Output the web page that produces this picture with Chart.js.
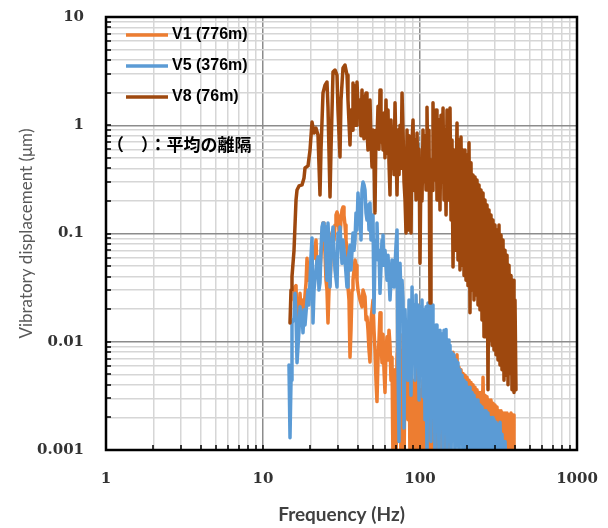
<!DOCTYPE html>
<html>
<head>
<meta charset="utf-8">
<script src="https://cdn.jsdelivr.net/npm/chart.js@4"></script>
<style>
  html,body{margin:0;padding:0;background:#fff}
  #wrap{width:608px;height:528px;position:relative}
</style>
</head>
<body>
<div id="wrap"><canvas id="cv"></canvas></div>
<script>
// ── axis ticks ──
var xTickLabels=['1','10','100','1000'];
var yTickLabels=['0.001','0.01','0.1','1','10'];
var gridSteps=[1,2,3,4,5,6,7,8,9];

// ── V1 (776m) ──
var v1Freq=[15.76,15.99,16.23,16.47,16.96,17.21,17.46,17.72,17.98,18.52,18.79,19.07,19.35,19.63,20.22,20.52,20.82,21.13,21.44,21.76,
  22.08,22.40,22.73,23.07,23.41,23.76,24.11,24.46,24.83,25.19,25.56,25.94,26.33,26.72,27.11,27.51,27.92,28.33,28.75,29.17,
  29.60,30.04,30.49,30.93,31.39,31.86,32.33,32.80,33.29,33.78,34.28,34.78,35.30,35.82,36.35,36.89,37.43,38.55,39.12,39.69,
  40.28,41.48,42.71,43.35,44.64,45.30,45.96,46.64,47.33,48.03,48.74,49.46,50.19,50.93,51.68,52.45,53.22,54.01,54.81,55.62,
  56.44,57.28,58.12,58.98,59.85,60.74,61.64,62.55,63.47,64.41,65.37,66.33,67.31,68.31,69.32,70.35,71.39,72.44,73.52,74.60,
  75.71,76.83,77.96,79.12,80.29,81.47,82.68,83.90,85.14,86.40,87.68,88.97,91.62,92.98,95.75,97.16,100.0,101.5,104.5,106.1,
  109.2,110.8,114.1,115.8,119.3,121.0,124.6,126.5,130.2,132.1,136.1,138.1,142.2,144.3,148.6,150.8,153.0,155.3,157.6,159.9,
  162.3,164.7,167.1,169.6,172.1,174.6,177.2,179.8,182.5,185.2,187.9,190.7,193.5,196.4,199.3,202.2,205.2,208.2,211.3,214.4,
  217.6,220.8,224.1,227.4,230.7,234.2,237.6,241.1,244.7,248.3,252.0,255.7,259.4,263.3,267.2,271.1,275.1,279.2,283.3,287.5,
  291.7,296.0,300.4,304.9,309.4,314.0,318.6,323.3,328.1,332.9,337.9,342.8,347.9,353.1,358.3,363.6,368.9,374.4,379.9,385.5,
  391.2,396.9];
var v1Disp=[0.0243,0.032,0.033,0.0128,0.0197,0.028,0.0197,0.0243,0.0159,0.027,0.035,0.059,0.043,0.037,0.051,0.070,0.075,0.059,0.070,0.087,
  0.046,0.057,0.035,0.046,0.063,0.087,0.125,0.097,0.066,0.037,0.030,0.0149,0.030,0.035,0.057,0.101,0.108,0.087,0.120,0.148,
  0.158,0.148,0.108,0.093,0.133,0.165,0.176,0.148,0.120,0.087,0.070,0.032,0.0243,0.0072,0.0128,0.030,0.037,0.057,0.051,0.037,
  0.030,0.0243,0.0210,0.030,0.026,0.0159,0.017,0.0128,0.0084,0.0065,0.0159,0.0197,0.0243,0.0128,0.0084,0.0044,0.0028,0.0068,0.0104,0.0185,
  0.0104,0.0064,0.0117,0.0055,0.0034,0.0084,0.0111,0.0068,0.0128,0.0093,0.0044,0.0072,0.0007,0.0044,0.0055,0.0007,0.0068,0.0104,0.0023,0.0117,
  0.0007,0.0044,0.0084,0.0007,0.0068,0.0029,0.0104,0.0019,0.0084,0.0007,0.0068,0.0007,0.0044,0.0007,0.0055,0.0007,0.0036,0.0007,0.0044,0.0007,
  0.0034,0.0007,0.0055,0.0007,0.0049,0.0007,0.0036,0.0007,0.0029,0.0007,0.0032,0.0007,0.0036,0.0007,0.0044,0.0008,0.0055,0.0012,0.0068,0.0019,
  0.0080,0.0023,0.0072,0.0029,0.0076,0.0019,0.0058,0.0023,0.0055,0.0015,0.0051,0.0021,0.0049,0.0012,0.0047,0.0019,0.0044,0.0011,0.0042,0.0017,
  0.0040,0.0012,0.0038,0.0015,0.0036,0.0010,0.0034,0.0015,0.0034,0.0011,0.0047,0.0013,0.0032,0.0010,0.0031,0.0012,0.0029,0.0009,0.0029,0.0012,
  0.0027,0.0009,0.0026,0.0011,0.0025,0.0009,0.0023,0.0011,0.0023,0.0008,0.0022,0.0011,0.0022,0.0008,0.0022,0.0010,0.0021,0.0008,0.0022,0.0009,
  0.0021,0.0007];

// ── V5 (376m) ──
var v5Freq=[14.64,14.86,15.08,15.30,15.76,15.99,16.23,16.47,16.96,17.21,17.46,17.72,17.98,18.25,18.52,19.07,19.35,19.63,19.93,20.22,
  20.52,20.82,21.13,21.76,22.08,22.40,22.73,23.07,23.41,23.76,24.11,24.46,24.83,25.19,25.56,25.94,26.33,26.72,27.11,27.92,
  28.33,28.75,29.60,30.04,30.49,30.93,31.86,32.33,33.29,34.28,34.78,35.82,36.35,37.43,37.98,38.55,39.12,39.69,40.28,40.88,
  41.48,42.09,42.71,43.35,43.99,44.64,45.30,45.96,46.64,47.33,48.03,48.74,49.46,50.19,50.93,51.68,52.45,53.22,54.01,54.81,
  55.62,57.28,58.12,58.98,59.85,61.64,62.55,64.41,66.33,68.31,70.35,71.39,72.44,73.52,74.60,75.71,76.83,77.96,79.12,80.29,
  81.47,82.68,83.90,85.14,86.40,87.68,88.97,90.29,91.62,92.98,94.35,95.75,97.16,98.60,100.0,101.5,103.0,104.5,106.1,107.6,
  109.2,110.8,112.5,114.1,115.8,117.5,119.3,121.0,122.8,124.6,126.5,128.3,130.2,132.1,134.1,136.1,138.1,140.2,142.2,144.3,
  146.5,148.6,150.8,153.0,155.3,157.6,159.9,162.3,164.7,167.1,169.6,172.1,174.6,177.2,179.8,182.5,185.2,187.9,190.7,193.5,
  196.4,199.3,202.2,205.2,208.2,211.3,214.4,217.6,220.8,224.1,227.4,230.7,234.2,237.6,241.1,244.7,248.3,252.0,255.7,259.4,
  263.3,267.2,271.1,275.1,279.2,283.3,287.5,291.7,296.0,300.4,304.9,309.4,314.0,318.6,323.3,328.1,332.9,337.9,347.9,353.1];
var v5Disp=[0.0061,0.0013,0.0044,0.0149,0.0165,0.028,0.0169,0.0064,0.0128,0.0210,0.0159,0.0185,0.0121,0.0197,0.0143,0.0243,0.030,0.0219,0.037,0.061,
  0.091,0.0149,0.030,0.046,0.057,0.061,0.030,0.035,0.070,0.115,0.125,0.087,0.115,0.057,0.037,0.125,0.078,0.032,0.063,0.115,
  0.070,0.046,0.032,0.101,0.078,0.115,0.053,0.087,0.057,0.032,0.057,0.078,0.046,0.101,0.070,0.087,0.155,0.108,0.237,0.165,
  0.204,0.087,0.252,0.299,0.281,0.252,0.155,0.133,0.183,0.108,0.191,0.087,0.133,0.148,0.0185,0.066,0.087,0.125,0.057,0.070,
  0.028,0.087,0.097,0.051,0.070,0.037,0.063,0.0243,0.057,0.032,0.078,0.108,0.0064,0.0012,0.053,0.0243,0.037,0.0243,0.0016,0.0197,
  0.0076,0.0128,0.0044,0.0243,0.0159,0.0032,0.032,0.0084,0.0219,0.0044,0.027,0.0093,0.0219,0.0029,0.0210,0.0055,0.0243,0.0031,0.0197,0.0019,
  0.0210,0.0008,0.0228,0.0044,0.0197,0.0012,0.0219,0.0023,0.0128,0.0008,0.0143,0.0029,0.0121,0.0007,0.0128,0.0019,0.0118,0.0008,0.0128,0.0023,
  0.0130,0.0007,0.0104,0.0012,0.0093,0.0007,0.0079,0.0015,0.0076,0.0007,0.0068,0.0011,0.0064,0.0007,0.0055,0.0012,0.0049,0.0007,0.0044,0.0010,
  0.0042,0.0007,0.0038,0.0011,0.0038,0.0007,0.0034,0.0010,0.0032,0.0007,0.0029,0.0011,0.0029,0.0007,0.0026,0.0008,0.0025,0.0007,0.0023,0.0009,
  0.0023,0.0007,0.0022,0.0008,0.0020,0.0007,0.0020,0.0007,0.0019,0.0007,0.0018,0.0007,0.0017,0.0007,0.0018,0.0007,0.0014,0.0007,0.0012,0.0007];

// ── V8 (76m) ──
var v8Freq=[14.86,15.08,15.30,15.76,16.23,16.47,16.96,17.72,18.25,18.52,19.35,19.93,20.52,21.13,21.76,22.40,23.07,23.41,24.11,24.83,
  25.56,25.94,26.72,27.11,27.92,28.75,29.60,30.04,30.93,31.39,32.33,33.29,34.28,34.78,
  35.82,36.35,36.89,37.43,37.98,38.55,39.12,39.69,40.28,40.88,41.48,42.09,42.71,43.35,43.99,44.64,45.30,45.96,46.64,47.33,
  48.03,48.74,49.46,50.19,50.93,51.68,52.45,53.22,54.01,54.81,55.62,56.44,57.28,58.12,58.98,59.85,60.74,61.64,62.55,63.47,
  64.41,65.37,66.33,67.31,68.31,69.32,70.35,71.39,72.44,73.52,74.60,75.71,76.83,77.96,79.12,80.29,81.47,82.68,83.90,85.14,
  86.40,87.68,88.97,90.29,91.62,92.98,94.35,95.75,97.16,98.60,100.0,101.5,103.0,104.5,106.1,107.6,109.2,110.8,112.5,114.1,
  115.8,117.5,119.3,121.0,122.8,124.6,126.5,128.3,130.2,132.1,134.1,136.1,138.1,140.2,142.2,144.3,146.5,148.6,150.8,153.0,
  155.3,157.6,159.9,162.3,164.7,167.1,172.1,174.6,177.2,179.8,182.5,185.2,187.9,190.7,193.5,196.4,199.3,202.2,205.2,208.2,
  211.3,214.4,217.6,220.8,224.1,227.4,230.7,234.2,237.6,241.1,244.7,248.3,252.0,255.7,259.4,263.3,267.2,271.1,275.1,279.2,
  283.3,287.5,291.7,296.0,300.4,304.9,309.4,314.0,318.6,323.3,328.1,332.9,337.9,342.8,347.9,353.1,358.3,363.6,368.9,374.4,
  379.9,385.5,391.2,396.9,402.8,408.7];
var v8Disp=[0.0149,0.030,0.040,0.070,0.204,0.252,0.275,0.281,0.326,0.403,0.421,0.590,1.07,0.848,0.94,0.812,0.227,0.59,1.99,2.35,
  2.51,1.47,0.217,0.59,3.10,3.24,2.91,1.38,0.509,1.71,3.38,3.60,2.91,1.71,
  0.657,1.38,0.9,2.46,1.2,2.31,1.0,2.51,1.54,1.19,1.71,0.8,2.12,1.0,0.75,1.7,1.99,0.9,0.59,1.38,
  1.71,0.7,0.412,0.904,0.5,0.155,0.9,0.731,1.5,0.6,2.12,0.7,1.12,0.59,1.3,0.5,1.71,0.55,1.38,0.45,
  0.227,1.12,0.4,0.9,0.35,1.61,0.6,0.227,0.904,0.35,1.0,0.4,1.99,0.904,0.3,0.204,0.101,0.904,0.108,0.8,
  0.59,0.101,0.7,1.12,0.25,0.731,0.204,0.848,0.25,0.6,0.053,0.477,0.2,0.904,0.3,0.8,0.252,1.47,0.3,0.9,
  0.0228,0.477,0.25,1.61,0.312,0.9,1.38,0.204,0.9,1.12,0.165,1.24,0.3,1.44,0.204,0.904,0.148,1.38,0.3,0.204,
  1.44,0.133,0.731,0.049,0.59,0.070,1.05,0.057,0.731,0.046,0.778,0.051,0.59,0.041,0.59,0.037,0.531,0.033,0.69,0.0185,
  0.45,0.030,0.347,0.0243,0.333,0.027,0.312,0.0219,0.281,0.0197,0.252,0.0159,0.237,0.0111,0.204,0.0159,0.183,0.0036,0.165,0.0104,
  0.148,0.0093,0.133,0.0084,0.120,0.0076,0.108,0.0068,0.120,0.0061,0.097,0.0055,0.087,0.0044,0.070,0.0049,0.063,0.0040,0.051,0.0051,
  0.041,0.0036,0.037,0.0034,0.0243,0.0036];

var seriesNames=['V1 (776m)','V5 (376m)','V8 (76m)'];
var seriesColors=['#ED7D31','#5B9BD5','#9E480E'];
var noteText='（　）：平均の離隔';

function pts(f,v){return f.map(function(x,i){return{x:x,y:v[i]};});}
function isDecade(v){var l=Math.log10(v);return Math.abs(l-Math.round(l))<1e-9;}
function gridVals(lo,hi){
  var out=[];
  for(var d=lo;d<hi;d*=10){gridSteps.forEach(function(s){out.push(+(s*d).toPrecision(6));});}
  out.push(hi);return out;
}
function decadeLabel(labels,lo){
  return function(v){if(!isDecade(v))return'';var i=Math.round(Math.log10(v/lo));return labels[i]||'';};
}

/* frame, inward ticks, legend and note */
var overlay={
  id:'overlay',
  afterDatasetsDraw:function(chart){
    var c=chart.ctx,a=chart.chartArea,sx=chart.scales.x,sy=chart.scales.y;
    c.save();
    c.strokeStyle='#000';c.lineWidth=1.5;c.beginPath();
    sx.ticks.forEach(function(t){var p=Math.round(sx.getPixelForValue(t.value));c.moveTo(p,a.bottom);c.lineTo(p,a.bottom-5);});
    sy.ticks.forEach(function(t){var p=Math.round(sy.getPixelForValue(t.value));c.moveTo(a.left,p);c.lineTo(a.left+5,p);});
    c.stroke();
    c.lineWidth=2.5;c.strokeRect(a.left,a.top,a.right-a.left,a.bottom-a.top);

    c.textBaseline='middle';c.textAlign='left';
    c.font='bold 16px "Liberation Sans", Arial, sans-serif';
    seriesNames.forEach(function(n,i){
      var y=a.top+18+i*31;
      c.strokeStyle=seriesColors[i];c.lineWidth=3.5;
      c.beginPath();c.moveTo(a.left+20,y);c.lineTo(a.left+62,y);c.stroke();
      c.fillStyle='#000';c.fillText(n,a.left+66,y);
    });
    c.font='bold 17px "Noto Sans CJK JP", sans-serif';
    c.fillText(noteText,a.left+1,a.top+128);
    c.restore();
  }
};

var tickFont={family:'"DejaVu Serif", serif',size:15,weight:'bold'};
var gridOpt={
  color:function(ctx){return ctx.tick&&isDecade(ctx.tick.value)?'#8c8c8c':'#d6d6d6';},
  lineWidth:1.5,drawTicks:false
};

new Chart(document.getElementById('cv'),{
  type:'line',
  data:{datasets:[
    {label:seriesNames[0],data:pts(v1Freq,v1Disp),borderColor:seriesColors[0],order:3},
    {label:seriesNames[1],data:pts(v5Freq,v5Disp),borderColor:seriesColors[1],order:2},
    {label:seriesNames[2],data:pts(v8Freq,v8Disp),borderColor:seriesColors[2],order:1}
  ]},
  options:{
    responsive:true,maintainAspectRatio:false,animation:false,devicePixelRatio:1,
    layout:{padding:{top:17,right:31,left:0,bottom:0}},
    elements:{
      line:{borderWidth:3.5,tension:0,borderJoinStyle:'round',borderCapStyle:'round',fill:false},
      point:{radius:0,hoverRadius:0}
    },
    datasets:{line:{clip:0}},
    plugins:{legend:{display:false},tooltip:{enabled:false}},
    scales:{
      x:{
        type:'logarithmic',min:1,max:1000,
        afterBuildTicks:function(s){s.ticks=gridVals(1,1000).map(function(v){return{value:v};});},
        afterFit:function(s){s.height=78;s.paddingLeft=0;s.paddingRight=0;},
        grid:gridOpt,border:{display:false},
        ticks:{autoSkip:false,maxRotation:0,padding:20,color:'#333',font:tickFont,callback:decadeLabel(xTickLabels,1)},
        title:{display:true,text:'Frequency (Hz)',color:'#404040',font:{family:'Lato, sans-serif',size:19,weight:'bold'},padding:{top:0,bottom:2}}
      },
      y:{
        type:'logarithmic',min:0.001,max:10,
        afterBuildTicks:function(s){s.ticks=gridVals(0.001,10).map(function(v){return{value:v};});},
        afterFit:function(s){s.width=106;s.paddingTop=0;s.paddingBottom=0;},
        grid:gridOpt,border:{display:false},
        ticks:{autoSkip:false,padding:22,color:'#333',font:tickFont,callback:decadeLabel(yTickLabels,0.001)},
        title:{display:true,text:'Vibratory displacement (μm)',color:'#595959',font:{family:'Lato, sans-serif',size:17},padding:{top:16,bottom:0}}
      }
    }
  },
  plugins:[overlay]
});
</script>
</body>
</html>
